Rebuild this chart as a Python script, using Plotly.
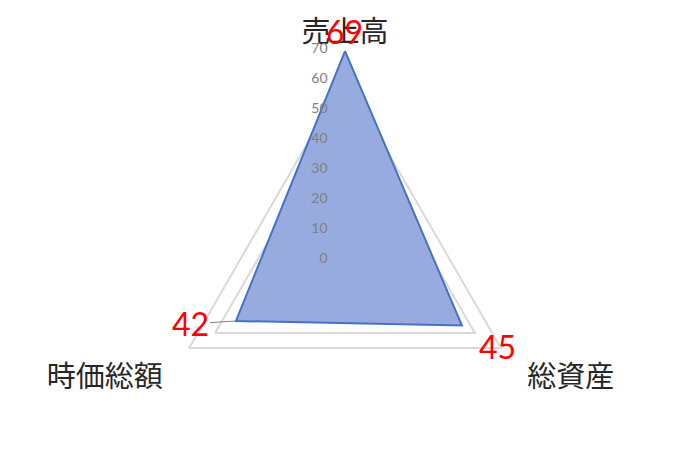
import plotly.graph_objects as go

categories = ["売上高", "総資産", "時価総額"]
values = [69, 45, 42]
tick_values = [0, 10, 20, 30, 40, 50, 60, 70]

LINE_BLUE = "#4472c4"
GRID_GREY = "#d9d9d9"
LABEL_RED = "#ff0000"

fig = go.Figure()

# scatterpolar has no fillgradient, so a flat mid tone of the excel gradient
fig.add_trace(go.Scatterpolar(
    r=values + values[:1],
    theta=categories + categories[:1],
    mode="lines",
    fill="toself",
    fillcolor="#98abde",
    line=dict(color=LINE_BLUE, width=2),
    showlegend=False,
))

# data labels (red), the 42 one has a short leader line
label_font = dict(size=32, color=LABEL_RED, family="Lato")
fig.add_annotation(text=str(values[0]), x=0.4985, y=0.948, xref="paper", yref="paper",
                   xanchor="center", yanchor="middle", showarrow=False, font=label_font)
fig.add_annotation(text=str(values[1]), x=0.7234, y=0.265, xref="paper", yref="paper",
                   xanchor="center", yanchor="middle", showarrow=False, font=label_font)
fig.add_annotation(text=str(values[2]), x=0.3373, y=0.3196, xref="paper", yref="paper",
                   showarrow=True, arrowhead=0, arrowwidth=1, arrowcolor="#7f7f7f",
                   ax=-46, ay=3, font=label_font)

fig.update_layout(
    width=676, height=460,
    margin=dict(l=0, r=0, t=0, b=0),
    paper_bgcolor="white",
    font=dict(family="Lato, Noto Sans CJK JP"),
    polar=dict(
        domain=dict(x=[0.1879, 0.8092], y=[0.0, 0.913]),
        gridshape="linear",
        bgcolor="rgba(0,0,0,0)",
        angularaxis=dict(
            rotation=90, direction="clockwise",
            showgrid=False, showline=False, ticks="",
            tickfont=dict(size=29, color="#262626", family="Noto Sans CJK JP"),
        ),
        radialaxis=dict(
            range=[0, 70], angle=90, tickangle=90, side="counterclockwise",
            tickvals=tick_values, showline=False,
            ticks="outside", ticklen=12, tickcolor="rgba(0,0,0,0)",
            gridcolor=GRID_GREY, gridwidth=1.5,
            tickfont=dict(size=14, color="#808080", family="Lato"),
        ),
    ),
)

fig.write_html("out.html")
